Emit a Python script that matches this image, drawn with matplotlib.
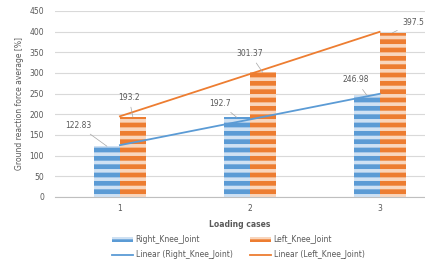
import numpy as np
import matplotlib.pyplot as plt

# Ground reaction force averages per loading case
cases = [1, 2, 3]
right_knee = [122.83, 192.7, 246.98]
left_knee = [193.2, 301.37, 397.5]
right_labels = ["122.83", "192.7", "246.98"]
left_labels = ["193.2", "301.37", "397.5"]

blue = "#5B9BD5"
orange = "#ED7D31"
grey = "#595959"

plt.rcParams["font.family"] = "DejaVu Sans"
plt.rcParams["hatch.linewidth"] = 2.6

fig = plt.figure(figsize=(4.25, 2.66), dpi=100)
ax = fig.add_axes([55 / 425, 69 / 266, 370 / 425, 186 / 266])

x = np.array(cases, dtype=float)
w = 0.2
ax.bar(x - w / 2, right_knee, w, color=blue, edgecolor="#cfe1f3",
       hatch="--", linewidth=0, zorder=2, label="Right_Knee_Joint")
ax.bar(x + w / 2, left_knee, w, color=orange, edgecolor="#f9d6bd",
       hatch="--", linewidth=0, zorder=2, label="Left_Knee_Joint")

# linear trendlines (Excel style)
xs = np.array([1, 3])
for vals, c, name in [(right_knee, blue, "Right_Knee_Joint"),
                      (left_knee, orange, "Left_Knee_Joint")]:
    k, b = np.polyfit(x, vals, 1)
    ax.plot(xs, k * xs + b, color=c, lw=1.3, zorder=3,
            label="Linear (%s)" % name)

# data labels with leader lines
right_off = [(-29, 21), (-17, 14), (-11, 15)]
left_off = [(-4, 20), (-13, 19), (21, 10)]
for i in range(3):
    for xv, yv, txt, off in [(x[i] - w / 2, right_knee[i], right_labels[i], right_off[i]),
                             (x[i] + w / 2, left_knee[i], left_labels[i], left_off[i])]:
        ax.annotate(txt, (xv, yv), xytext=off, textcoords="offset pixels",
                    ha="center", va="center", fontsize=5.5, color=grey,
                    arrowprops=dict(arrowstyle="-", color="#a6a6a6", lw=0.5,
                                    shrinkA=2, shrinkB=0), zorder=4)

ax.set_xlim(0.5, 3.35)
ax.set_ylim(0, 450)
ax.set_yticks(range(0, 451, 50))
ax.set_xticks(cases)
ax.grid(axis="y", color="#d9d9d9", lw=0.8, zorder=0)
ax.set_axisbelow(True)
for s in ["top", "right", "left"]:
    ax.spines[s].set_visible(False)
ax.spines["bottom"].set_color("#bfbfbf")
ax.tick_params(length=0, labelsize=5.5, labelcolor=grey, pad=5)
ax.tick_params(axis="y", pad=8)

ax.set_xlabel("Loading cases", fontsize=5.5, color=grey, fontweight="bold", labelpad=5)
ax.set_ylabel("Ground reaction force average [%]", fontsize=5.5, color=grey, labelpad=4)

handles, labels = ax.get_legend_handles_labels()
order = [2, 0, 3, 1]
handles = [handles[i] for i in order]
labels = [labels[i] for i in order]
fig.legend(handles, labels, ncol=2, loc="lower left", bbox_to_anchor=(105 / 425, 0.0),
           frameon=False, fontsize=5.5, labelcolor=grey, handlelength=2.8,
           handleheight=0.6, columnspacing=2.3, handletextpad=0.3, labelspacing=0.8)

fig.savefig("out.png", dpi=100)
